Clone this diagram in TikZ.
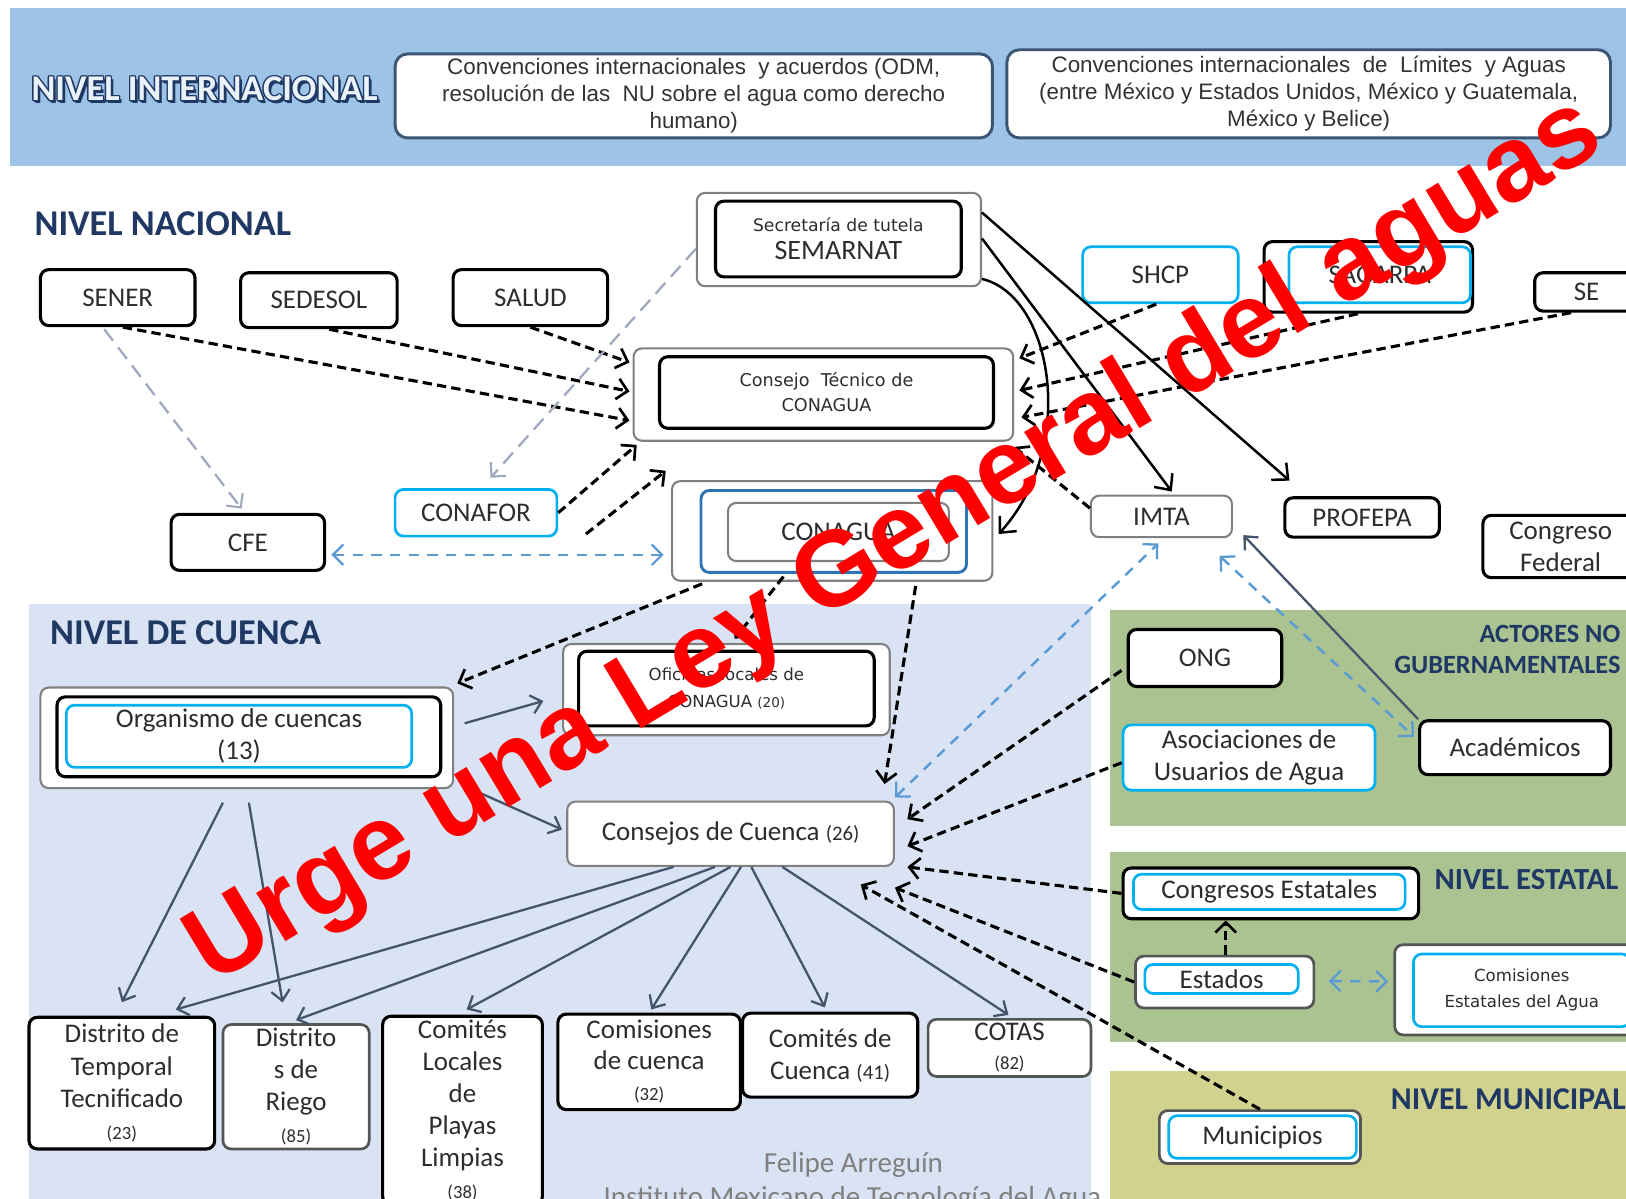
\documentclass[tikz,border=0pt]{standalone}
\usepackage{fontspec}
\setmainfont{Carlito}
\newfontfamily\arialf{Liberation Sans}
\newfontfamily\verdf{DejaVu Sans}
\usetikzlibrary{arrows.meta,calc}
\definecolor{intband}{RGB}{157,195,230}
\definecolor{cuencabg}{RGB}{218,227,243}
\definecolor{greenbg}{RGB}{170,195,145}
\definecolor{munbg}{RGB}{208,210,142}
\definecolor{navy}{RGB}{31,56,100}
\definecolor{cyanb}{RGB}{0,176,240}
\definecolor{blueb}{RGB}{46,117,182}
\definecolor{grayb}{RGB}{128,128,128}
\definecolor{dgrayb}{RGB}{85,85,85}
\definecolor{slate}{RGB}{68,84,106}
\definecolor{lblue}{RGB}{91,155,213}
\definecolor{lgray}{RGB}{160,168,190}
\definecolor{txt}{RGB}{45,45,45}
\definecolor{intborder}{RGB}{60,85,115}
\newcommand{\mybox}[7]{\node[#1, minimum width={(#5-#3)*0.5pt}, minimum height={(#6-#4)*0.5pt}] (#2) at ({(#3+#5)/2},{(#4+#6)/2}) {#7};}
\begin{document}
\begin{tikzpicture}[x=0.5pt,y=-0.5pt,
  box/.style={draw, rounded corners=4pt, fill=white, inner sep=0pt, text=txt,
    font=\fontsize{13}{15.5}\selectfont, align=center},
  bbox/.style={box, draw=black, line width=1.5pt},
  gbox/.style={box, draw=grayb, line width=1pt},
  dbox/.style={box, draw=dgrayb, line width=1.3pt},
  cbox/.style={box, draw=cyanb, line width=1.3pt},
  blbox/.style={box, draw=blueb, line width=1.4pt},
  intbox/.style={box, draw=intborder, line width=1.4pt, rounded corners=6pt,
    font=\arialf\fontsize{10.8}{13}\selectfont, text=black!80},
  hdr/.style={font=\bfseries\fontsize{17.5}{18}\selectfont, text=navy, anchor=west, inner sep=0pt},
  rhdr/.style={font=\bfseries\fontsize{12.7}{15}\selectfont, text=navy, anchor=east, inner sep=0pt, align=right},
  bdash/.style={draw=black, line width=1.5pt, dash pattern=on 4.5pt off 2.5pt,
    -{Straight Barb[length=5pt,width=10pt,line width=1.3pt]}},
  ldash/.style={draw=lblue, line width=1.2pt, dash pattern=on 5pt off 4pt,
    {Straight Barb[length=5pt,width=10pt,line width=1.1pt]}-{Straight Barb[length=5pt,width=10pt,line width=1.1pt]}},
  gdash/.style={draw=lgray, line width=1.1pt, dash pattern=on 7pt off 4pt,
    -{Straight Barb[length=5pt,width=10pt,line width=1pt]}},
  sblk/.style={draw=black, line width=1.2pt, -{Straight Barb[length=6pt,width=11pt,line width=1.2pt]}},
  sgry/.style={draw=slate, line width=1.1pt, -{Straight Barb[length=5pt,width=9pt,line width=1.1pt]}}
]
\useasboundingbox (0,0) rectangle (1568,1156);
\clip (0,0) rectangle (1568,1156);
\fill[white] (0,0) rectangle (1568,1156);
% backgrounds
\fill[intband] (10,8) rectangle (1568,160);
\fill[cuencabg] (28,582) rectangle (1052,1156);
\fill[greenbg] (1070,588) rectangle (1568,797);
\fill[greenbg] (1070,822) rectangle (1568,1005);
\fill[munbg] (1070,1033) rectangle (1568,1156);

% headers
\foreach \dx/\dy [count=\k] in {-1.3/0,1.3/0,0/-1.3,0/1.3,-1/-1,1/1,-1/1,1/-1,2.6/2.6,2/2.6}{
  \node[hdr, text=navy] (nish\k) at (30+\dx,86+\dy) {NIVEL INTERNACIONAL};
}
\node[hdr, text=white!80!intband] (ni) at (30,86) {NIVEL INTERNACIONAL};
\node[hdr] (nn) at (33,216) {NIVEL NACIONAL};
\node[hdr] (ncu) at (48,610) {NIVEL DE CUENCA};
\node[rhdr] (anc) at (1563,626) {ACTORES NO\\GUBERNAMENTALES};
\node[rhdr, font=\bfseries\fontsize{14.8}{15}\selectfont] (nes) at (1561,848) {NIVEL ESTATAL};
\node[rhdr, font=\bfseries\fontsize{15.3}{16}\selectfont] (nmu) at (1568,1060) {NIVEL MUNICIPAL};

% international
\mybox{intbox}{i1}{381}{52}{957}{133}{Convenciones internacionales \ y acuerdos (ODM,\\resolución de las \ NU sobre el agua como derecho\\humano)}
\mybox{intbox}{i2}{971}{48}{1553}{133}{Convenciones internacionales \ de \ Límites \ y Aguas\\(entre México y Estados Unidos, México y Guatemala,\\México y Belice)}

% national
\mybox{gbox}{sem}{672}{186}{946}{276}{}
\mybox{bbox, font=\fontsize{13.5}{13.5}\selectfont}{semi}{690}{194}{927}{267}{{\verdf\fontsize{8.3}{13.5}\selectfont Secretaría de tutela}\\SEMARNAT}
\mybox{bbox}{sener}{39}{260}{188}{314}{SENER}
\mybox{bbox}{sedesol}{232}{263}{383}{316}{SEDESOL}
\mybox{bbox}{salud}{437}{260}{586}{314}{SALUD}
\mybox{gbox}{ct}{611}{336}{977}{425}{}
\mybox{bbox, font=\verdf\fontsize{8.5}{12}\selectfont}{cti}{636}{344}{958}{413}{Consejo \ Técnico de\\CONAGUA}
\mybox{cbox}{shcp}{1044}{238}{1194}{292}{SHCP}
\mybox{bbox}{sag}{1219}{233}{1420}{301}{}
\mybox{cbox}{sagi}{1243}{238}{1418}{292}{SAGARPA}
\mybox{bbox}{se}{1480}{263}{1580}{300}{SE}
\mybox{cbox}{conafor}{381}{472}{537}{517}{CONAFOR}
\mybox{bbox}{cfe}{165}{496}{313}{550}{CFE}
\mybox{gbox}{cng}{648}{464}{957}{560}{}
\mybox{blbox}{cngm}{676}{473}{932}{552}{}
\mybox{gbox}{cngi}{702}{485}{915}{541}{CONAGUA}
\mybox{gbox}{imta}{1052}{478}{1188}{518}{IMTA}
\mybox{bbox}{profepa}{1239}{480}{1388}{518}{PROFEPA}
\mybox{bbox}{congfed}{1430}{497}{1580}{557}{Congreso\\Federal}

% cuenca
\mybox{gbox}{org}{39}{663}{437}{760}{}
\mybox{bbox}{orgm}{55}{672}{425}{749}{}
\mybox{cbox}{orgi}{64}{680}{397}{740}{Organismo de cuencas\\(13)}
\mybox{gbox}{ofi}{543}{621}{858}{709}{}
\mybox{bbox, font=\verdf\fontsize{8}{13}\selectfont}{ofii}{558}{628}{843}{700}{Oficinas locales de\\CONAGUA {\fontsize{6.5}{13}\selectfont(20)}}
\mybox{gbox}{cc}{547}{773}{862}{835}{Consejos de Cuenca {\fontsize{10}{15.5}\selectfont(26)}}
\mybox{bbox}{dtt}{28}{981}{207}{1108}{Distrito de\\Temporal\\Tecnificado\\{\fontsize{9}{15.5}\selectfont(23)}}
\mybox{dbox}{dr}{215}{988}{356}{1108}{Distrito\\s de\\Riego\\{\fontsize{9}{15.5}\selectfont(85)}}
\mybox{bbox}{clp}{369}{980}{523}{1162}{Comités\\Locales\\de\\Playas\\Limpias\\{\fontsize{9}{15.5}\selectfont(38)}}
\mybox{bbox, font=\fontsize{13}{15}\selectfont}{cdc}{538}{978}{714}{1070}{Comisiones\\de cuenca\\{\fontsize{9}{15}\selectfont(32)}}
\mybox{bbox}{cmc}{716}{977}{885}{1058}{Comités de\\Cuenca {\fontsize{10}{15.5}\selectfont(41)}}
\mybox{dbox, font=\fontsize{13}{14}\selectfont}{cotas}{895}{983}{1052}{1038}{COTAS\\{\fontsize{9}{14}\selectfont(82)}}

% right side
\mybox{bbox}{ong}{1088}{607}{1236}{662}{ONG}
\mybox{cbox}{asoc}{1083}{699}{1326}{762}{Asociaciones de\\Usuarios de Agua}
\mybox{bbox}{acad}{1369}{695}{1553}{747}{Académicos}
\mybox{bbox}{ce}{1083}{837}{1368}{886}{}
\mybox{cbox}{cei}{1093}{843}{1355}{877}{Congresos Estatales}
\mybox{dbox}{est}{1095}{922}{1267}{972}{}
\mybox{cbox}{esti}{1104}{930}{1252}{958}{Estados}
\mybox{dbox}{cea}{1345}{911}{1590}{998}{}
\mybox{cbox, font=\verdf\fontsize{8}{12.5}\selectfont}{ceai}{1363}{920}{1572}{990}{Comisiones\\Estatales del Agua}
\mybox{dbox}{mun}{1118}{1071}{1312}{1122}{}
\mybox{cbox}{muni}{1127}{1076}{1308}{1117}{Municipios}

% footer
\node[text=black!50, font=\fontsize{14}{14}\selectfont] (fa) at (823,1123) {Felipe Arreguín};
\node[text=black!50, font=\fontsize{14}{14}\selectfont, anchor=base] (imtf) at (822,1163) {Instituto Mexicano de Tecnología del Agua};

% connectors: black dashed
\coordinate (c1) at (565,515);
\draw[bdash] (salud.south) -- ($(ct.west)+(-3,-31)$);
\draw[bdash] ($(sedesol.south)+(10,0)$) -- ($(ct.west)+(-3,-3)$);
\draw[bdash] ($(sener.south)+(5,0)$) -- ($(ct.west)+(-3,25)$);
\draw[bdash] (conafor.east) -- ($(ct.south west)+(4,3)$);
\draw[bdash] (c1) -- ($(ct.south west)+(32,28)$);
\draw[bdash] ($(shcp.south)+(-4,0)$) -- ($(ct.east)+(5,-35)$);
\draw[bdash] ($(sag.south)+(-10,0)$) -- ($(ct.east)+(5,-4)$);
\draw[bdash] ($(se.south)+(-15,0)$) -- ($(ct.east)+(7,22)$);
\draw[bdash] ($(imta.west)+(0,-8)$) -- ($(ct.south east)+(0,5)$);
\draw[bdash] ($(cng.south west)+(30,2)$) -- ($(org.north east)+(3,-3)$);
\draw[bdash] ($(cng.south)+(-47,-5)$) -- ($(ofi.north)+(8,-4)$);
\draw[bdash] ($(cng.south east)+(-75,4)$) -- ($(cc.north east)+(-10,-16)$);
\draw[bdash] ($(ong.west)+(-5,12)$) -- ($(cc.east)+(12,-14)$);
\draw[bdash] ($(asoc.west)+(0,5)$) -- ($(cc.east)+(12,12)$);
\draw[bdash] (ce.west) -- ($(cc.east)+(12,32)$);
\draw[bdash] (est.west) -- ($(cc.south east)+(0,20)$);
\draw[bdash] (mun.north) -- ($(cc.south east)+(-33,17)$);
\draw[bdash] ($(est.north)+(1,0)$) -- ($(est.north |- ce.south)+(1,0)$);

% light blue dashed
\draw[ldash] ($(cfe.east)+(5,12)$) -- ($(cng.west)+(-7,23)$);
\draw[ldash] ($(cc.north east)+(0,-3)$) -- ($(imta.south)+(-3,5)$);
\draw[ldash] ($(imta.south east)+(-13,17)$) -- ($(acad.north west)+(-4,17)$);
\draw[ldash] ($(est.east)+(13,-1)$) -- ($(cea.west)+(-5,-8)$);

% gray dashed
\draw[gdash] ($(sener.south)+(-13,2)$) -- ($(cfe.north)+(-6,-4)$);
\draw[gdash] ($(sem.west)+(0,9)$) -- ($(conafor.north)+(14,-10)$);

% solid black
\draw[sblk] ($(sem.east)+(0,-26)$) -- ($(profepa.north)+(-70,-15)$);
\draw[sblk] ($(sem.east)+(0,-1)$) -- ($(imta.north)+(10,-3)$);
\draw[sblk] ($(sem.south east)+(0,-8)$) .. controls (1015,285) and (1040,430) .. ($(cng.east)+(5,3)$);

% solid slate
\draw[sgry] (acad.north west) -- ($(imta.south east)+(10,-3)$);
\draw[sgry] ($(org.east)+(10,-14)$) -- ($(ofi.west)+(-18,11)$);
\draw[sgry] ($(org.south east)+(10,-3)$) -- ($(cc.west)+(-4,-4)$);
\draw[sgry] ($(org.south)+(-23,13)$) -- ($(dtt.north)+(0,-13)$);
\draw[sgry] ($(org.south)+(2,13)$) -- ($(dr.north)+(-13,-20)$);
\draw[sgry] ($(cc.south)+(-55,0)$) -- ($(dtt.north east)+(-39,-6)$);
\draw[sgry] ($(cc.south)+(-15,0)$) -- ($(dr.north)+(0,-3)$);
\draw[sgry] (cc.south) -- ($(clp.north)+(4,-5)$);
\draw[sgry] ($(cc.south)+(10,0)$) -- ($(cdc.north)+(2,-3)$);
\draw[sgry] ($(cc.south)+(20,0)$) -- ($(cmc.north)+(-5,-4)$);
\draw[sgry] ($(cc.south)+(50,0)$) -- ($(cotas.north)+(-1,-3)$);

% watermark
\node[rotate=31, text=red, font=\arialf\bfseries\fontsize{51.5}{51.5}\selectfont, inner sep=0pt] (wm) at (864,524) {Urge una Ley General del aguas};
\end{tikzpicture}
\end{document}
